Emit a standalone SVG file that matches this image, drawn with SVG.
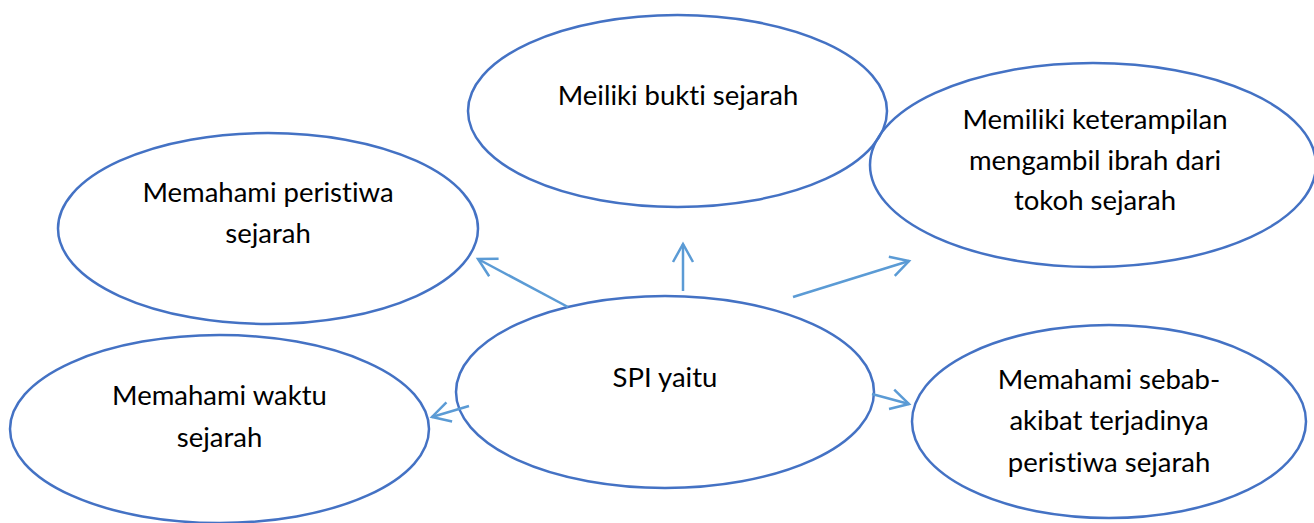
<svg xmlns="http://www.w3.org/2000/svg" width="1314" height="523" viewBox="0 0 1314 523">
<style>
.node ellipse{fill:none;stroke:#4472C4;stroke-width:2.5}
.node text{font-family:Lato,"Liberation Sans",sans-serif;font-size:27.5px;fill:#000;text-anchor:middle;font-variant-ligatures:none}
.conn line{stroke:#5B9BD5;stroke-width:2.5;marker-end:url(#arr)}
</style>
<defs>
<marker id="arr" markerUnits="userSpaceOnUse" viewBox="0 0 22 24" markerWidth="22" markerHeight="24" refX="19" refY="12" orient="auto">
<path d="M1,2 L19,12 L1,22" fill="none" stroke="#5B9BD5" stroke-width="2.5"/>
</marker>
</defs>
<rect width="1314" height="523" fill="#fff"/>
<g id="n-bukti" class="node">
<ellipse cx="677.5" cy="111" rx="209.5" ry="96"/>
<text x="678" y="105">Meiliki bukti sejarah</text>
</g>
<g id="n-ibrah" class="node">
<ellipse cx="1093" cy="165" rx="223" ry="102"/>
<text x="1095" y="129">Memiliki keterampilan</text>
<text x="1095" y="170">mengambil ibrah dari</text>
<text x="1095" y="210">tokoh sejarah</text>
</g>
<g id="n-peristiwa" class="node">
<ellipse cx="268" cy="228.5" rx="210" ry="95.5"/>
<text x="268" y="202">Memahami peristiwa</text>
<text x="268" y="243">sejarah</text>
</g>
<g id="n-spi" class="node">
<ellipse cx="665" cy="392" rx="209" ry="96"/>
<text x="665" y="387">SPI yaitu</text>
</g>
<g id="n-waktu" class="node">
<ellipse cx="219.5" cy="429" rx="209.5" ry="94"/>
<text x="219.5" y="405">Memahami waktu</text>
<text x="219.5" y="447">sejarah</text>
</g>
<g id="n-sebab" class="node">
<ellipse cx="1109" cy="421.5" rx="197" ry="96.5"/>
<text x="1109" y="389">Memahami sebab-</text>
<text x="1109" y="430">akibat terjadinya</text>
<text x="1109" y="472">peristiwa sejarah</text>
</g>
<g id="connectors" class="conn">
<line x1="568" y1="307" x2="478" y2="259"/>
<line x1="683" y1="291" x2="683" y2="244"/>
<line x1="793" y1="297" x2="909" y2="261"/>
<line x1="469" y1="406" x2="432" y2="417"/>
<line x1="872" y1="394" x2="909" y2="404"/>
</g>
</svg>
